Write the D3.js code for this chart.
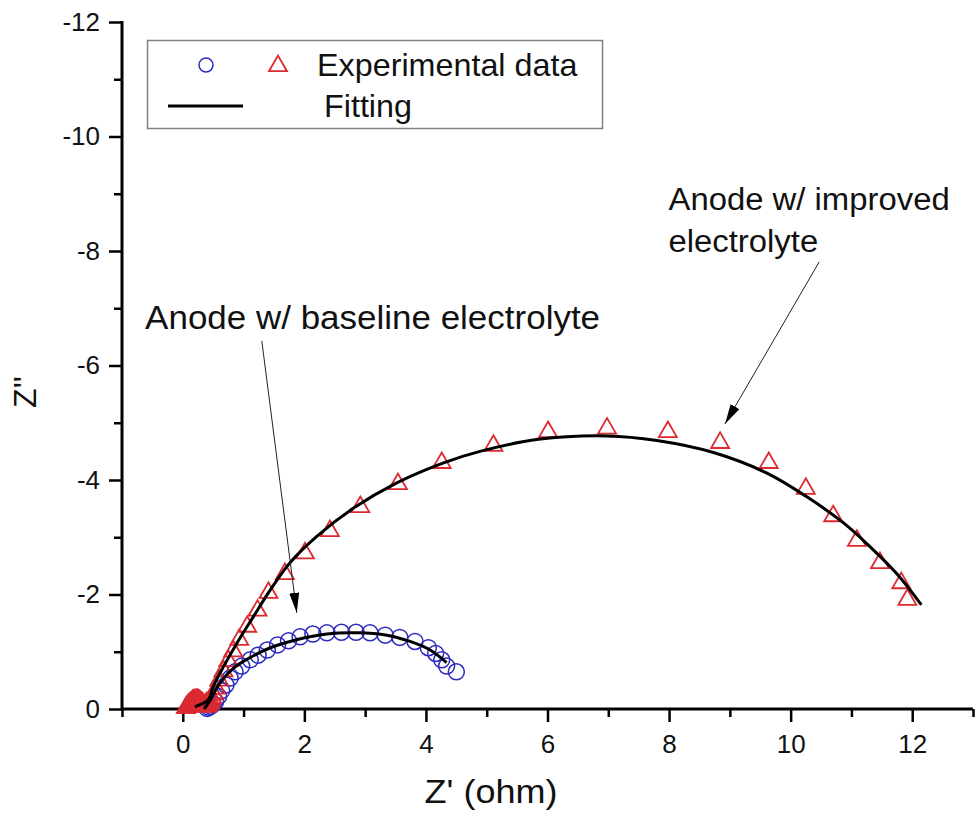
<!DOCTYPE html>
<html>
<head>
<meta charset="utf-8">
<script src="https://cdn.jsdelivr.net/npm/d3@7"></script>
<style>
  body { margin: 0; background: #fff; }
  svg { display: block; font-family: "Liberation Sans", Arial, sans-serif; }
</style>
</head>
<body>
<svg id="chart" width="976" height="817"></svg>
<script>
// Data (Z' in ohm, Z'' negative upward)
var blueX = [0.40, 0.43, 0.46, 0.50, 0.54, 0.59, 0.64, 0.71, 0.78, 0.86, 0.97, 1.11, 1.24, 1.39, 1.56, 1.74, 1.93, 2.14, 2.37, 2.61, 2.85, 3.08, 3.33, 3.57, 3.82, 4.04, 4.16, 4.26, 4.34, 4.50];
var blueY = [-0.01, -0.03, -0.05, -0.08, -0.13, -0.22, -0.32, -0.42, -0.54, -0.65, -0.75, -0.86, -0.94, -1.03, -1.12, -1.19, -1.26, -1.31, -1.33, -1.34, -1.34, -1.33, -1.29, -1.25, -1.18, -1.07, -0.97, -0.86, -0.75, -0.65];

// high frequency points crowd together near the origin
var redX = [0.05, 0.07, 0.08, 0.10, 0.11, 0.12, 0.14, 0.15, 0.16, 0.18, 0.19, 0.20, 0.22, 0.23, 0.24, 0.26, 0.27, 0.28, 0.30, 0.31, 0.32, 0.34, 0.35, 0.36, 0.38, 0.39, 0.40, 0.42, 0.43, 0.44, 0.46, 0.48, 0.51, 0.55, 0.60, 0.67, 0.75, 0.83, 0.93, 1.06, 1.23, 1.41, 1.68, 2.01, 2.42, 2.92, 3.54, 4.26, 5.11, 6.01, 6.98, 7.98, 8.84, 9.64, 10.25, 10.70, 11.09, 11.47, 11.82, 11.92];
var redY = [-0.02, -0.04, -0.06, -0.08, -0.05, -0.10, -0.12, -0.08, -0.14, -0.15, -0.09, -0.16, -0.16, -0.09, -0.16, -0.15, -0.08, -0.14, -0.12, -0.06, -0.10, -0.08, -0.04, -0.06, -0.05, -0.10, -0.05, -0.07, -0.12, -0.10, -0.14, -0.19, -0.26, -0.36, -0.50, -0.66, -0.84, -1.01, -1.21, -1.44, -1.72, -2.03, -2.36, -2.72, -3.11, -3.53, -3.93, -4.30, -4.60, -4.84, -4.90, -4.84, -4.65, -4.30, -3.85, -3.37, -2.94, -2.55, -2.20, -1.91];

var fitBlueX = [0.35, 0.45, 0.61, 0.83, 1.11, 1.44, 1.87, 2.37, 2.86, 3.36, 3.74, 4.07, 4.34];
var fitBlueY = [0.0, -0.15, -0.45, -0.71, -0.90, -1.07, -1.21, -1.31, -1.33, -1.29, -1.18, -1.03, -0.81];

var fitRedX = [0.20, 0.42, 0.50, 0.67, 0.89, 1.16, 1.44, 1.76, 2.20, 2.81, 3.52, 4.29, 4.89, 5.85, 6.97, 7.80, 8.73, 9.61, 10.26, 10.87, 11.30, 11.74, 12.15];
var fitRedY = [-0.04, -0.16, -0.39, -0.74, -1.15, -1.61, -2.08, -2.55, -3.01, -3.51, -3.95, -4.30, -4.50, -4.71, -4.77, -4.69, -4.48, -4.12, -3.71, -3.25, -2.84, -2.37, -1.82];

var xMajor = [0, 2, 4, 6, 8, 10, 12];
var xMinor = [-1, 1, 3, 5, 7, 9, 11, 13];
var yMajor = [0, -2, -4, -6, -8, -10, -12];
var yMinor = [-1, -3, -5, -7, -9, -11];

var labels = ["Anode w/ improved", "electrolyte", "Anode w/ baseline electrolyte"];
var legendText = ["Experimental data", "Fitting"];

var blueColor = "#2b2bbf", redColor = "#dc2a30";

// Scales
var x = d3.scaleLinear().domain([-1, 13]).range([122, 973]);
var y = d3.scaleLinear().domain([0, -12]).range([709, 22]);

var svg = d3.select("#chart");

// axes
function styleAxis(g) {
  g.select(".domain").remove();
  g.selectAll(".tick line").attr("stroke", "#000").attr("stroke-width", 2.5);
  g.selectAll(".tick text").attr("fill", "#111").style("font-size", "26px");
}

svg.append("g")
  .attr("transform", "translate(0," + y(0) + ")")
  .call(d3.axisBottom(x).tickValues(xMinor).tickSize(8).tickFormat(""))
  .call(styleAxis);
svg.append("g")
  .attr("transform", "translate(0," + y(0) + ")")
  .call(d3.axisBottom(x).tickValues(xMajor).tickSize(13).tickPadding(13).tickFormat(function(d) { return String(d); }))
  .call(styleAxis);

svg.append("g")
  .attr("transform", "translate(" + x(-1) + ",0)")
  .call(d3.axisLeft(y).tickValues(yMinor).tickSize(8).tickFormat(""))
  .call(styleAxis);
svg.append("g")
  .attr("transform", "translate(" + x(-1) + ",0)")
  .call(d3.axisLeft(y).tickValues(yMajor).tickSize(13).tickPadding(9).tickFormat(function(d) { return String(d); }))
  .call(styleAxis);

svg.append("line")
  .attr("x1", x(-1)).attr("x2", x(13))
  .attr("y1", y(0)).attr("y2", y(0))
  .attr("stroke", "#000").attr("stroke-width", 3);
svg.append("line")
  .attr("x1", x(-1)).attr("x2", x(-1))
  .attr("y1", y(0) + 1.5).attr("y2", y(-12) - 1)
  .attr("stroke", "#000").attr("stroke-width", 3);

// axis titles
svg.append("text")
  .attr("transform", "translate(491,803) scale(1.06,1)")
  .attr("text-anchor", "middle")
  .style("font-size", "34px")
  .attr("fill", "#111")
  .text("Z' (ohm)");
svg.append("text")
  .attr("transform", "translate(36,392) rotate(-90)")
  .attr("text-anchor", "middle")
  .style("font-size", "32px")
  .attr("fill", "#111")
  .text("Z''");

// data markers
var blue = blueX.map(function(d, i) { return [d, blueY[i]]; });
var red = redX.map(function(d, i) { return [d, redY[i]]; });

svg.append("g").selectAll("circle")
  .data(blue)
  .enter().append("circle")
  .attr("cx", function(d) { return x(d[0]); })
  .attr("cy", function(d) { return y(d[1]); })
  .attr("r", 8)
  .attr("fill", "none")
  .attr("stroke", blueColor)
  .attr("stroke-width", 1.5);

var tri = d3.symbol(d3.symbolTriangle, 140);
svg.append("g").selectAll("path")
  .data(red)
  .enter().append("path")
  .attr("d", tri)
  .attr("transform", function(d) { return "translate(" + x(d[0]) + "," + y(d[1]) + ")"; })
  .attr("fill", "none")
  .attr("stroke", redColor)
  .attr("stroke-width", 1.8);

// fitting lines
var line = d3.line()
  .x(function(d) { return x(d[0]); })
  .y(function(d) { return y(d[1]); })
  .curve(d3.curveCatmullRom);

svg.append("path")
  .datum(fitBlueX.map(function(d, i) { return [d, fitBlueY[i]]; }))
  .attr("d", line)
  .attr("fill", "none").attr("stroke", "#000").attr("stroke-width", 3);
svg.append("path")
  .datum(fitRedX.map(function(d, i) { return [d, fitRedY[i]]; }))
  .attr("d", line)
  .attr("fill", "none").attr("stroke", "#000").attr("stroke-width", 3);

// annotations
svg.append("defs").append("marker")
  .attr("id", "head")
  .attr("viewBox", "0 0 20 10")
  .attr("refX", 20).attr("refY", 5)
  .attr("markerWidth", 20).attr("markerHeight", 10)
  .attr("markerUnits", "userSpaceOnUse")
  .attr("orient", "auto")
  .append("path")
  .attr("d", "M0,0 L20,5 L0,10 Z")
  .attr("fill", "#000");

var arrows = [[10.47, -7.81, 8.92, -4.98], [1.30, -6.43, 1.875, -1.68]];
svg.append("g").selectAll("line")
  .data(arrows)
  .enter().append("line")
  .attr("x1", function(d) { return x(d[0]); })
  .attr("y1", function(d) { return y(d[1]); })
  .attr("x2", function(d) { return x(d[2]); })
  .attr("y2", function(d) { return y(d[3]); })
  .attr("stroke", "#222").attr("stroke-width", 1)
  .attr("marker-end", "url(#head)");

var labelPos = [[7.99, -8.72], [7.99, -7.98], [-0.62, -6.64]];
var labelSize = [31, 31, 33];
svg.append("g").selectAll("text")
  .data(labels)
  .enter().append("text")
  .attr("transform", function(d, i) { return "translate(" + x(labelPos[i][0]) + "," + y(labelPos[i][1]) + ") scale(1.06,1)"; })
  .style("font-size", function(d, i) { return labelSize[i] + "px"; })
  .attr("fill", "#111")
  .text(function(d) { return d; });

// legend
var lg = svg.append("g");
lg.append("rect")
  .attr("x", 147.5).attr("y", 40.5)
  .attr("width", 455).attr("height", 88)
  .attr("fill", "#fff").attr("stroke", "#808080").attr("stroke-width", 1.5);
lg.append("circle")
  .attr("cx", 206).attr("cy", 65).attr("r", 7)
  .attr("fill", "none").attr("stroke", blueColor).attr("stroke-width", 1.5);
lg.append("path")
  .attr("d", tri)
  .attr("transform", "translate(278,66)")
  .attr("fill", "none").attr("stroke", redColor).attr("stroke-width", 1.8);
lg.append("line")
  .attr("x1", 168).attr("x2", 243).attr("y1", 106).attr("y2", 106)
  .attr("stroke", "#000").attr("stroke-width", 3);
lg.selectAll("text.leg")
  .data(legendText)
  .enter().append("text")
  .attr("class", "leg")
  .attr("transform", function(d, i) { return "translate(" + (i ? 324 : 317) + "," + (i ? 117 : 76) + ") scale(1.06,1)"; })
  .style("font-size", "30.5px")
  .attr("fill", "#111")
  .text(function(d) { return d; });
</script>
</body>
</html>
